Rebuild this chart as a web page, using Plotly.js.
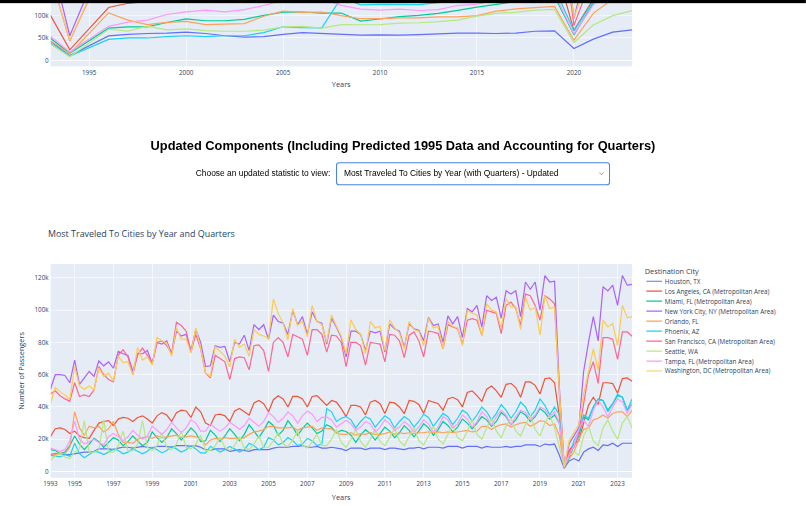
<!DOCTYPE html>
<html>
<head>
<meta charset="utf-8">
<script src="https://cdn.plot.ly/plotly-3.0.1.min.js"></script>
<style>
  html, body { margin: 0; padding: 0; background: #fff; width: 806px; height: 506px; overflow: hidden; }
  #page { position: absolute; left: 0; top: 0; width: 1535px; height: 964px; transform: scale(0.525); transform-origin: 0 0; }
  #topbar { position: absolute; left: 0; top: 0; width: 1535px; height: 5.5px; background: #000; z-index: 5; }
  #chartA { position: absolute; left: 0; top: -313.7px; width: 1535px; height: 511px; }
  #heading { position: absolute; left: 0; top: 265.8px; width: 1535px; margin: 0; text-align: center;
             font: bold 24.4px/24.4px "Liberation Sans", Arial, Helvetica, sans-serif; color: #000; }
  #picker { position: absolute; left: 0; top: 308.6px; width: 1535px; height: 44px; display: flex;
            justify-content: center; align-items: center; gap: 11px;
            font: 16px "Liberation Sans", Arial, Helvetica, sans-serif; color: #000; }
  #picker select { width: 522px; height: 44px; box-sizing: border-box; border: 2px solid #4a84e6; border-radius: 6px;
            padding: 0 36px 0 13px; font: 16px "Liberation Sans", Arial, Helvetica, sans-serif; color: #000;
            -webkit-appearance: none; appearance: none; background-color: #fff;
            background-image: url("data:image/svg+xml;utf8,<svg xmlns='http://www.w3.org/2000/svg' width='12' height='8' viewBox='0 0 12 8'><path d='M1 1.5l5 5 5-5' fill='none' stroke='%23777' stroke-width='1.5'/></svg>");
            background-repeat: no-repeat; background-position: right 9px center; background-size: 11px 7px; outline: none; }
  #chartB { position: absolute; left: 0; top: 420px; width: 1535px; height: 560px; }
</style>
</head>
<body>
<div id="page">
  <div id="topbar"></div>
  <div id="chartA"></div>
  <h2 id="heading">Updated Components (Including Predicted 1995 Data and Accounting for Quarters)</h2>
  <div id="picker">
    <label for="stat">Choose an updated statistic to view:</label>
    <select id="stat"><option>Most Traveled To Cities by Year (with Quarters) - Updated</option></select>
  </div>
  <div id="chartB"></div>
</div>
<script>
// Destination cities, in legend order
const cities = [
  'Houston, TX',
  'Los Angeles, CA (Metropolitan Area)',
  'Miami, FL (Metropolitan Area)',
  'New York City, NY (Metropolitan Area)',
  'Orlando, FL',
  'Phoenix, AZ',
  'San Francisco, CA (Metropolitan Area)',
  'Seattle, WA',
  'Tampa, FL (Metropolitan Area)',
  'Washington, DC (Metropolitan Area)'
];

const colors = ['#636efa', '#EF553B', '#00cc96', '#ab63fa', '#FFA15A', '#19d3f3', '#FF6692', '#B6E880', '#FF97FF', '#FECB52'];

// ---------- Annual totals (thousands of passengers); 1995 missing in this set ----------
const years = [1993, 1994, 1996, 1997, 1998, 1999, 2000, 2001, 2002, 2003, 2004, 2005, 2006, 2007, 2008,
               2009, 2010, 2011, 2012, 2013, 2014, 2015, 2016, 2017, 2018, 2019, 2020, 2021, 2022, 2023];

const aHouston    = [43, 10.5, 54.5, 58, 60, 61, 63, 60, 55, 52, 53, 58, 62, 60, 58, 56.5, 57, 56.5, 57.5, 59, 61, 61, 60, 61, 65, 66, 26.5, 47.5, 63, 68];
const aLosAngeles = [101, 23.5, 118, 127.5, 131.5, 136, 143, 140.5, 133.5, 144.5, 163.5, 173.5, 178, 177.5, 167, 156, 164, 161.5, 164.8, 165, 173.5, 186, 197.5, 206.6, 210.4, 218.5, 67, 136, 206.1, 220.1];
const aMiami      = [49.5, 16, 72, 75, 75, 84.5, 92.5, 88.5, 88.5, 91.5, 100.5, 107.5, 108, 105.5, 105.8, 87.8, 92.4, 97.5, 100.4, 105.1, 111.5, 119, 125, 131.6, 137, 143.1, 57, 128, 169, 173];
const aNewYork    = [230.5, 55, 261, 283.5, 283, 307, 329, 308, 298, 311.5, 345, 364, 372, 369, 346.5, 330, 335, 341, 344.5, 358.5, 364, 386, 412.5, 429, 444, 457, 94, 265, 423, 456];
const aOrlando    = [44, 15, 106, 90, 80, 85, 87, 80, 81, 82, 98.5, 110, 107, 108, 100, 93, 93, 95, 95, 97, 97, 100, 110, 115, 118, 120.5, 45, 105, 137, 146];
const aPhoenix    = [39, 9.5, 47, 50, 50, 53, 55, 53, 55, 55, 62, 75, 73, 72.5, 140, 124, 125, 125, 124.5, 129, 132, 140, 145, 149.5, 155, 161, 66, 133, 167.5, 177];
const aSanFran    = [190, 43.5, 232.5, 274, 281, 306, 343, 296, 268, 268.5, 294.5, 305, 321.5, 333, 322.5, 303, 304.5, 318.5, 322.6, 330, 345.1, 361.4, 381.5, 394.5, 412.7, 413.8, 78, 194, 302.6, 326.3];
const aSeattle    = [36.5, 8, 69.5, 65.5, 76.5, 68, 70.5, 66.5, 65, 65, 67.5, 75, 76, 72, 80, 79.5, 80, 83, 84, 86.5, 90, 99, 105, 107, 112, 114, 40, 79, 100, 111];
const aTampa      = [54, 19, 76, 85.5, 90, 102.5, 108.5, 112, 108.5, 113.5, 122.5, 134, 136, 137.5, 122.8, 114.3, 112.4, 114.5, 111.4, 113.4, 122.5, 125.8, 133.8, 136, 141.6, 149.5, 59, 124, 158, 166];
const aWashington = [191, 44.5, 234.5, 263, 277, 309.5, 324.5, 300, 282.5, 303, 328.5, 379.5, 366, 370.5, 351, 340, 345, 344, 344, 352, 348, 373, 387, 400, 398, 396.5, 95.5, 215, 337.8, 372.2];

const annualTickVals = [0, 50000, 100000];

// ---------- Quarterly counts (thousands of passengers) ----------
const quarters = [
  '1993 Q1','1993 Q2','1993 Q3','1993 Q4',
  '1994 Q1',
  '1995 Q1','1995 Q2','1995 Q3','1995 Q4',
  '1996 Q1','1996 Q2','1996 Q3','1996 Q4',
  '1997 Q1','1997 Q2','1997 Q3','1997 Q4',
  '1998 Q1','1998 Q2','1998 Q3','1998 Q4',
  '1999 Q1','1999 Q2','1999 Q3','1999 Q4',
  '2000 Q1','2000 Q2','2000 Q3','2000 Q4',
  '2001 Q1','2001 Q2','2001 Q3','2001 Q4',
  '2002 Q1','2002 Q2','2002 Q3','2002 Q4',
  '2003 Q1','2003 Q2','2003 Q3','2003 Q4',
  '2004 Q1','2004 Q2','2004 Q3','2004 Q4',
  '2005 Q1','2005 Q2','2005 Q3','2005 Q4',
  '2006 Q1','2006 Q2','2006 Q3','2006 Q4',
  '2007 Q1','2007 Q2','2007 Q3','2007 Q4',
  '2008 Q1','2008 Q2','2008 Q3','2008 Q4',
  '2009 Q1','2009 Q2','2009 Q3','2009 Q4',
  '2010 Q1','2010 Q2','2010 Q3','2010 Q4',
  '2011 Q1','2011 Q2','2011 Q3','2011 Q4',
  '2012 Q1','2012 Q2','2012 Q3','2012 Q4',
  '2013 Q1','2013 Q2','2013 Q3','2013 Q4',
  '2014 Q1','2014 Q2','2014 Q3','2014 Q4',
  '2015 Q1','2015 Q2','2015 Q3','2015 Q4',
  '2016 Q1','2016 Q2','2016 Q3','2016 Q4',
  '2017 Q1','2017 Q2','2017 Q3','2017 Q4',
  '2018 Q1','2018 Q2','2018 Q3','2018 Q4',
  '2019 Q1','2019 Q2','2019 Q3','2019 Q4',
  '2020 Q1','2020 Q2','2020 Q3','2020 Q4',
  '2021 Q1','2021 Q2','2021 Q3','2021 Q4',
  '2022 Q1','2022 Q2','2022 Q3','2022 Q4',
  '2023 Q1','2023 Q2','2023 Q3','2023 Q4'
];

const yearTickPos  = ['1993 Q1','1995 Q1','1997 Q1','1999 Q1','2001 Q1','2003 Q1','2005 Q1','2007 Q1',
                      '2009 Q1','2011 Q1','2013 Q1','2015 Q1','2017 Q1','2019 Q1','2021 Q1','2023 Q1'];
const yearTickText = ['1993','1995','1997','1999','2001','2003','2005','2007',
                      '2009','2011','2013','2015','2017','2019','2021','2023'];

const qHouston = [
  10.5,11,11,10.5, 10.5,
  11,11.5,12,12, 12.5,14,14,14, 13.5,14.5,15,15, 14.5,15,15.5,15, 14.5,15.5,15.5,15.5,
  15,16,16,16, 15.5,16,15,13.5, 13,14,14,14, 12.5,13,13.5,13, 12.5,13.5,13.5,13.5,
  13.5,14.5,15,15, 15,15.5,15.5,16, 15,15,15.5,14.5, 14.5,15,14.5,14, 13,14.5,14.5,14.5,
  13.5,14.5,14.5,14.5, 13.5,14.5,14.5,14, 13.5,14.5,14.5,15, 14,15,15,15, 14.5,15.5,15.5,15.5,
  14.5,15.5,15.5,15.5, 14.5,15.5,15,15, 15,15.5,15,15.5, 15.5,16.5,16.5,16.5, 15.5,17,16.5,17,
  10,2,6.5,8, 6.5,12,14,15, 13,16.5,16,17.5, 15.5,17.5,17.5,17.5
];
const qLosAngeles = [
  21.5,26.5,27,26, 23.5,
  25,22,21,20.5, 25.5,30,31,31.5, 28.5,32.5,33.5,33, 31,33.5,34.5,32.5, 30,34.5,36.5,35,
  31,36.5,38,37.5, 33.5,40,37,30, 28.5,35,35.5,34.5, 31,37.5,39,37, 35,42.5,44,42,
  37,44.5,47,45, 40,46.5,46.5,45, 40,46.5,47,44, 41,44,43,39, 34,41,41,40,
  35,43,44,42, 36,43,42.5,40, 35.8,44,43.5,41.5, 36,44,43,42, 38,45,46,44.5,
  40,49,50,47, 43.5,51,53,50, 46,54,54.6,52, 46,55.5,55.5,53.4, 48,57.5,58,55,
  34,3,13,17, 19,30,41,46, 41.6,55,55,54.5, 48.5,57.6,58,56
];
const qMiami = [
  13.5,13,11,12, 16,
  22,17,13.5,17, 20.5,18.5,15,18, 21,19.5,16,18.5, 22,19,16,18, 24.5,21,18,21,
  26.5,23.5,19.5,23, 27,24,18.5,19, 25.5,22.5,18.5,22, 26.5,23,19,23, 29,25,21,25.5,
  31,28.5,22.5,25.5, 31.5,27.5,22.5,26.5, 30,27,23.5,25, 29,27.5,23.8,25.5, 24.8,22.5,18,22.5,
  25.9,23.5,19.5,23.5, 27.5,25,21,24, 28.4,25.5,21.5,25, 29.6,27,22.5,26, 31,28.5,24.5,27.5,
  32.5,30,26.5,30, 34,32,28,31, 36.6,34,29,32, 37,35,31,34, 39,36.6,32.5,35,
  30,3,8,16, 22,34,32,40, 45,44,38,42, 47,46,38,42
];
const qNewYork = [
  51,60,60,59.5, 55,
  69,54,58,62, 59,68.5,65.5,68, 64,74.5,73,72, 62,73,73,75, 67,80,79,81,
  73,87,84,85, 75,88,80,65, 65.5,78,77,77.5, 68,80,79,84.5, 75,91,88,91,
  82,97,93,92, 85,100,91,96, 85,99,93,92, 79,95,89.5,83, 71,87,87,85,
  75,87,86,87, 74,91.5,88.5,87, 77,91.5,88.5,87.5, 81,95.5,90.5,91.5, 80,96.5,91.5,96,
  83,101,99,103, 89.5,109,106,108, 95,112,110,112, 96,117.5,113,117.5, 100,121.5,117.5,118,
  52,3,17,22, 27,62,80,96, 81,114.5,112,115.5, 103,121.5,115.5,116
];
const qOrlando = [
  11,10.5,11.5,11, 15,
  37,27,22.5,28, 27,28,24.5,26.5, 31,23,18,18, 17.5,20,21,21.5, 20.5,22,21,21.5,
  22,22.5,21,21.5, 22,21.5,20,16.5, 19.5,20.5,20,21, 20.5,20.5,20,21, 23,24.5,25,26,
  28,28,27,27, 27,27.5,25.5,27, 27.5,28,25.5,27, 26.5,26.5,24,23, 23,24,22.5,23.5,
  23,24,23,23, 23.5,24.5,23,24, 23.5,24,23.5,24, 24,24.5,24,24.5, 24,24.5,24,24.5,
  25,25.5,24.5,25, 28,28,26,28, 29,29.5,27.5,29, 30,30.5,28,29.5, 31.5,31,28.5,29.5,
  22,3,8,12, 20,26,27,32, 33,35,33,36, 37,37,34,38
];
const qPhoenix = [
  10,9.5,9,10.5, 9.5,
  17.5,11,8.5,10.5, 12.5,12,10.5,12, 14,13,11,12, 14,12.5,11,12.5, 15,13.5,11.5,13,
  15.5,14,12,13.5, 16,14,11.5,11.5, 15.5,14,12,13.5, 15.5,14,12,13.5, 17.5,16,13.5,15,
  21,19.5,16.5,18, 21,19,16,17, 20.5,19,16,17, 39,37,31,33, 34,32,27,31,
  34,32.5,27.5,31, 34.5,32.5,27,31, 34,32,27.5,31, 35.5,33.5,28,32, 36,34,29,33,
  38,36,31,35, 40,37,32,36, 41.5,38,33,37, 43,40,34,38, 45,41,35,40,
  35,3,9,19, 25,35,33,40, 44.5,44,37,42, 48,46,38,45
];
const qSanFran = [
  48,50,47,45, 43.5,
  55,46.5,47.5,46.5, 50.5,65,60,57, 55.5,72,75.5,71, 60,72.5,76.5,72, 67,80,81,78,
  73,92.5,90.5,87, 74,85,76,61, 58,72,70,68, 57,70,71,70.5, 63,78,78.5,75,
  62,80,83,80, 71,85,83.5,82, 72,88,88,85, 74,84.5,84,80, 65,80,80,78,
  66,80,79.5,79, 68,85,84.5,81, 70.6,84.5,86.5,81, 71,87,86.5,85.5, 76,91,89.6,88.5,
  79,93.8,94.8,93.8, 84.5,100,99,98, 85.5,103,105,101, 90.7,110,109,103, 93.8,109,107,104,
  48,3,12,15, 24,42,60,68, 54.6,83,83,82, 69.5,86.5,86.5,83.8
];
const qSeattle = [
  7,9.5,11,9, 8,
  12,14,31.5,12, 12,13.5,32,12, 12,16,25,12.5, 13,17,31.5,15, 13,16,24,15,
  13.5,17,25,15, 14,17,22.5,13, 13,16,21,15, 13,16,21.5,14.5, 13.5,17,22,15,
  15,19,24,17, 15.5,19.5,25,16, 14.5,18.5,23,16, 16,20,26,18, 15,20,26,18.5,
  15,20,26.5,18.5, 16,21,27,19, 16,21.5,27.5,19, 16.5,22,28,20, 17,23,29,21,
  19,25,32,23, 20,27,33,25, 21,28,33,25, 22,29,35,26, 22,30,35,27,
  15,3,10,12, 10,22,28,19, 16,27,32,25, 20,30,34,27
];
const qTampa = [
  14.5,13.5,12.5,13.5, 19,
  31,20,17,18.5, 20,18,16.5,21.5, 23.5,21.5,19,21.5, 25.5,22.5,20,22, 28,25.5,23,26,
  30.5,27,24,27, 32,30,25,25, 29.5,27,25,27, 30.5,28.5,26,28.5, 33,30.5,28,31,
  36.5,34,30.5,33, 37,34.5,30,34.5, 37.5,35.5,31,33.5, 33.7,32,27.5,29.6, 31.7,29.6,25.5,27.5,
  31,29.5,24.4,27.5, 32,29.5,25.5,27.5, 31,28.5,24.4,27.5, 32,29.5,24.4,27.5, 34,32,27,29.5,
  35,32.5,27.5,30.8, 37,34,28.8,34, 38,35,29,34, 38,36.6,32,35, 40,38.5,34,37,
  30,3,10,16, 26,32,28,38, 44,40,34,40, 45,43,36,42
];
const qWashington = [
  42,52,49.5,47.5, 44.5,
  65,53,51,53, 50.5,64,59,61, 56,71.5,67.5,68, 60,77,69,71, 66,83,81,79.5,
  71.5,89,82,82, 73.5,89,76.5,61, 59,77.5,74.5,71.5, 65,82,77,79, 71.5,88,85,84,
  82.5,107,98,92, 81.5,101,90.5,93, 83.5,103,93,91, 80,97,90,84, 73,94,88,85,
  73,93,89,90, 75,94,89,86, 76,93,88,87, 78,95,89,90, 76,93,90,89,
  78,100,98,97, 84,104,100,99, 89,107,102,102, 88,108,100,102, 84.5,109,101,102,
  50,2.5,19,24, 29,48,62,76, 62.7,93.8,89.6,91.7, 78,103,95.4,95.8
];

const annual    = [aHouston, aLosAngeles, aMiami, aNewYork, aOrlando, aPhoenix, aSanFran, aSeattle, aTampa, aWashington];
const quarterly = [qHouston, qLosAngeles, qMiami, qNewYork, qOrlando, qPhoenix, qSanFran, qSeattle, qTampa, qWashington];

const baseFont = { family: '"Open Sans", verdana, arial, sans-serif', size: 12, color: '#2a3f5f' };
const axisBase = {
  gridcolor: 'white', linecolor: 'white', zerolinecolor: 'white', zerolinewidth: 2,
  ticks: '', automargin: false, tickfont: { size: 12 }
};
const lineWidth = 2.3;

// Annual chart (upper part of the page)
const annualTraces = cities.map((name, i) => ({
  type: 'scatter', mode: 'lines', name: name,
  x: years, y: annual[i].map(v => v * 1000),
  line: { color: colors[i], width: lineWidth }
}));

Plotly.newPlot('chartA', annualTraces, {
  width: 1535, height: 511,
  margin: { l: 96.2, r: 331.2, t: 20, b: 69.7 },
  paper_bgcolor: 'white', plot_bgcolor: '#E5ECF6',
  font: baseFont,
  showlegend: false,
  xaxis: Object.assign({}, axisBase, {
    type: 'linear', range: [1993, 2023], dtick: 5, tick0: 1995,
    title: { text: 'Years', font: { size: 14 }, standoff: 9.5 }
  }),
  yaxis: Object.assign({}, axisBase, {
    range: [-14100, 479600], tickmode: 'array', tickvals: annualTickVals
  })
}, { displayModeBar: false, staticPlot: true });

// Quarterly chart
const quarterlyTraces = cities.map((name, i) => ({
  type: 'scatter', mode: 'lines', name: name,
  x: quarters, y: quarterly[i].map(v => v * 1000),
  line: { color: colors[i], width: lineWidth }
}));

Plotly.newPlot('chartB', quarterlyTraces, {
  width: 1535, height: 560,
  margin: { l: 96.2, r: 331.2, t: 82.9, b: 69.5 },
  paper_bgcolor: 'white', plot_bgcolor: '#E5ECF6',
  font: baseFont,
  title: {
    text: 'Most Traveled To Cities by Year and Quarters',
    font: { size: 17 },
    xref: 'container', x: 91.4 / 1535, xanchor: 'left',
    yref: 'container', y: 1 - 26.4 / 560, yanchor: 'middle'
  },
  showlegend: true,
  legend: { title: { text: 'Destination City', font: { size: 14 } } },
  xaxis: Object.assign({}, axisBase, {
    type: 'category', tickvals: yearTickPos, ticktext: yearTickText,
    title: { text: 'Years', font: { size: 14 }, standoff: 13 }
  }),
  yaxis: Object.assign({}, axisBase, {
    range: [-3900, 128600], dtick: 20000,
    title: { text: 'Number of Passengers', font: { size: 14 }, standoff: 15 }
  })
}, { displayModeBar: false, staticPlot: true });
</script>
</body>
</html>
